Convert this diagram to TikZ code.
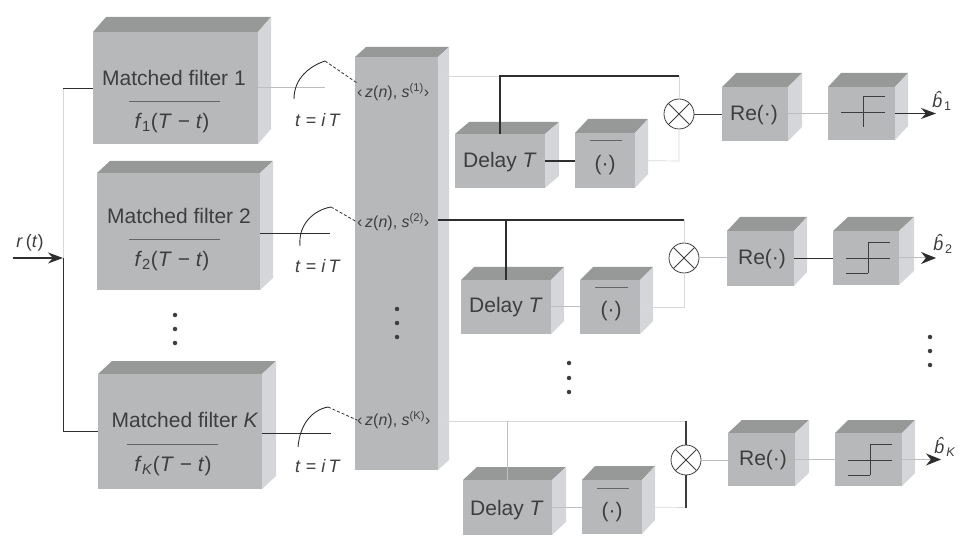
\documentclass[tikz,border=0pt]{standalone}
\usepackage{fontspec}
\setmainfont{Liberation Sans}
\usetikzlibrary{arrows.meta}
\definecolor{frontc}{HTML}{B7B8B9}
\definecolor{topc}{HTML}{979998}
\definecolor{sidec}{HTML}{D4D6DA}
\definecolor{inkc}{HTML}{3E3E3E}
\definecolor{lightc}{HTML}{BEBEBE}
\definecolor{darkc}{HTML}{2E2E2E}
\tikzset{
  frontface/.style={fill=frontc,draw=none,inner sep=0pt,outer sep=0pt,rectangle},
  topface/.style={fill=topc,draw=none},
  sideface/.style={fill=sidec,draw=none},
  big/.style={text=inkc,inner sep=0pt,font=\fontsize{21}{23}\selectfont},
  mid/.style={text=inkc,inner sep=0pt,font=\fontsize{18}{20}\selectfont},
  small/.style={text=inkc,inner sep=0pt,font=\fontsize{16}{18}\selectfont},
  dk/.style={draw=darkc,line width=1.1pt},
  lt/.style={draw=lightc,line width=1pt},
  vlt/.style={draw=lightc!60,line width=.7pt},
  bar/.style={draw=inkc!80,line width=.8pt},
  thrline/.style={draw=inkc,line width=.9pt},
  mult/.style={circle,draw=inkc,line width=.8pt,minimum size=30pt,inner sep=0pt,outer sep=0pt},
  dotmark/.style={circle,fill=inkc,inner sep=0pt,minimum size=4.5pt},
  arrowk/.style={draw=darkc,line width=1.3pt,-{Stealth[length=15pt,width=11pt]}},
  arrowl/.style={draw=lightc,line width=1pt,-{Stealth[length=15pt,width=12pt,color=darkc,fill=darkc]}},
  samp/.style={draw=darkc,line width=.9pt},
  sampd/.style={draw=darkc,line width=.8pt,densely dashed},
}
% name, x0,y0,x1,y1 (front face), xb,yb (far corner)
\newcommand{\cubebox}[7]{%
  \fill[topface] (#2,#3) -- ({#6-(#4-#2)},#7) -- (#6,#7) -- (#4,#3) -- cycle;
  \fill[sideface] (#4,#3) -- (#6,#7) -- (#6,{#5-(#3-#7)}) -- (#4,#5) -- cycle;
  \node[frontface,minimum width={(#4-#2)*1pt},minimum height={(#5-#3)*1pt}] (#1) at ({(#2+#4)/2},{(#3+#5)/2}) {};
}
\newcommand{\thrbase}[3]{% centre x, y, half-width
  \draw[thrline] ({#1-#3},#2) -- ({#1+#3},#2);
  \draw[thrline] (#1,{#2+15}) -- (#1,{#2-16}) -- ({#1+#3},{#2-16});
}
\newcommand{\thrlow}[3]{%
  \draw[thrline] (#1,{#2+15}) -- ({#1-#3},{#2+15});
}
\begin{document}
\begin{tikzpicture}[x=1pt,y=-1pt]
\useasboundingbox (0,0) rectangle (961,537);

% ---------- boxes
\cubebox{mfa}{93}{32}{258}{144}{271}{17}
\cubebox{mfb}{97}{173}{260}{290}{273}{161}
\cubebox{mfc}{98}{374}{262}{489}{276}{361}
\cubebox{bank}{355}{57}{438}{470}{449}{47}
\cubebox{da}{455}{134}{545}{188}{559}{122}
\cubebox{ca}{575}{133}{635}{188}{648}{119}
\cubebox{ra}{722}{87}{788}{141}{802}{73}
\cubebox{ta}{828}{87}{895}{140}{908}{73}
\cubebox{db}{461}{280}{551}{334}{564}{267}
\cubebox{cb}{580}{280}{640}{334}{653}{267}
\cubebox{rb}{727}{231}{794}{286}{807}{217}
\cubebox{tb}{833}{231}{899}{285}{914}{217}
\cubebox{dc}{463}{480}{552}{535}{566}{467}
\cubebox{cc}{582}{480}{642}{534}{655}{466}
\cubebox{rc}{728}{433}{795}{486}{809}{420}
\cubebox{tc}{835}{433}{902}{486}{915}{420}

% ---------- multipliers
\node[mult] (ma) at (679,114) {};
\node[mult] (mb) at (684,258) {};
\node[mult] (mc) at (686,460) {};
\foreach \m in {ma,mb,mc}{
  \draw[draw=inkc,line width=.8pt] (\m.45) -- (\m.225) (\m.135) -- (\m.315);
}

% ---------- free ends and junctions
\coordinate (inS) at (13,258);
\coordinate (inJ) at (63,258);
\coordinate (busT) at (63,88);
\coordinate (busB) at (63,431);
\coordinate (sa) at (325,88);
\coordinate (sb) at (330,233);
\coordinate (sc) at (331,433);
\coordinate (aa) at (294,99);
\coordinate (ab) at (325,61);
\coordinate (ba) at (300,246);
\coordinate (bb) at (331,207);
\coordinate (ca1) at (298,447);
\coordinate (cb1) at (328,407);
\coordinate (ja) at (500,76);
\coordinate (ka) at (679,76);
\coordinate (jb) at (506,220);
\coordinate (kb) at (684,220);
\coordinate (jc) at (507.5,421);
\coordinate (kc) at (686,421);
\coordinate (qa) at (679,161);
\coordinate (qb) at (684,307);
\coordinate (qc) at (686,507.5);
\coordinate (ea) at (936,113.5);
\coordinate (eb) at (936,258);
\coordinate (ec) at (941,459.5);

% ---------- labels in the bank
\node[small,anchor=west] (za) at (357,92) {‹\,\textit{z}(\textit{n}), \textit{s}\textsuperscript{(1)}›};
\node[small,anchor=west] (zb) at (357,222) {‹\,\textit{z}(\textit{n}), \textit{s}\textsuperscript{(2)}›};
\node[small,anchor=west] (zc) at (357,420) {‹\,\textit{z}(\textit{n}), \textit{s}\textsuperscript{(K)}›};

% ---------- input
\node[mid] (rt) at (30,243) {\textit{r}\,(\textit{t})};
\draw[arrowk] (inS) -- (inJ);
\draw[vlt] (busT) -- (inJ);
\draw[dk,line width=.9pt] (inJ) -- (busB) -- (mfc.west |- busB);
\draw[dk,line width=.9pt] (busT) -- (mfa.west);

% ---------- filter outputs and samplers
\draw[lt] (mfa.east) -- (sa);
\draw[dk,line width=.9pt] (mfb.east |- sb) -- (sb);
\draw[dk,line width=.9pt] (mfc.east |- sc) -- (sc);
\draw[samp] (aa) .. controls (294,78) and (310,66) .. (ab);
\draw[samp] (ba) .. controls (298,224) and (314,210) .. (bb);
\draw[samp] (ca1) .. controls (300,424) and (312,410) .. (cb1);
\draw[sampd] (ab) -- (za.north west);
\draw[sampd] (bb) -- (zb.west);
\draw[sampd] (cb1) -- (zc.west);
\node[mid] (ta1) at (318,120) {\textit{t} = \textit{i}\,\textit{T}};
\node[mid] (ta2) at (318,266) {\textit{t} = \textit{i}\,\textit{T}};
\node[mid] (ta3) at (318,466) {\textit{t} = \textit{i}\,\textit{T}};

% ---------- first branch
\draw[vlt] (bank.east |- ja) -- (ja);
\draw[dk] (da.north) -- (ja) -- (ka);
\draw[vlt] (ka) -- (ma.north);
\draw[dk] (da.east) -- (ca.west |- da.east);
\draw[vlt] (ca.east) -- (qa) -- (ma.south);
\draw[draw=inkc,line width=.8pt] (ma.east) -- (ra.west);
\draw[lt] (ra.east) -- (ta.west |- ra.east);
\draw[arrowk] (ta.east) -- (ea);

% ---------- second branch
\draw[dk] (bank.east |- jb) -- (kb);
\draw[vlt] (kb) -- (mb.north);
\draw[dk] (jb) -- (db.north);
\draw[lt] (db.east) -- (cb.west);
\draw[vlt] (cb.east) -- (qb) -- (mb.south);
\draw[lt] (mb.east) -- (rb.west |- mb.east);
\draw[dk] (rb.east) -- (tb.west |- rb.east);
\draw[arrowl] (tb.east) -- (eb);

% ---------- third branch
\draw[vlt] (bank.east |- jc) -- (kc);
\draw[lt] (jc) -- (dc.north);
\draw[dk,draw=inkc] (kc) -- (mc.north);
\draw[lt] (dc.east) -- (cc.west |- dc.east);
\draw[vlt] (cc.east) -- (qc);
\draw[dk,draw=inkc] (qc) -- (mc.south);
\draw[lt] (mc.east) -- (rc.west |- mc.east);
\draw[lt] (rc.east) -- (tc.west |- rc.east);
\draw[arrowl] (tc.east) -- (ec);

% ---------- box texts
\node[big] (ma1) at (174,78) {Matched filter 1};
\draw[bar] (129,101) -- (220,101);
\node[big] (ma2) at (172,123) {\textit{f}\textsubscript{1}(\textit{T} − \textit{t})};
\node[big] (mb1) at (179,216) {Matched filter 2};
\draw[bar] (129,239) -- (220,239);
\node[big] (mb2) at (172,261) {\textit{f}\textsubscript{2}(\textit{T} − \textit{t})};
\node[big] (mc1) at (185,420) {Matched filter \textit{K}};
\draw[bar] (127,444) -- (218,444);
\node[big] (mc2) at (173,466) {\textit{f}\textsubscript{\textit{K}}(\textit{T} − \textit{t})};

\node[big] (dat) at (500,162) {Delay \textit{T}};
\node[big] (dbt) at (506,307) {Delay \textit{T}};
\node[big] (dct) at (507,510) {Delay \textit{T}};

\draw[bar] (590,140) -- (622,140);
\draw[bar] (595,287) -- (628,287);
\draw[bar] (597,488) -- (629,488);
\node[big] (cat) at (605,165) {(·)};
\node[big] (cbt) at (611,311) {(·)};
\node[big] (cct) at (612,512) {(·)};

\node[big] (rat) at (754,115) {Re(·)};
\node[big] (rbt) at (762,259) {Re(·)};
\node[big] (rct) at (763,460) {Re(·)};

\thrbase{863}{112}{22}
\thrbase{868}{258}{22}
\thrlow{868}{258}{22}
\thrbase{870}{460}{22}
\thrlow{870}{460}{22}

% ---------- decisions
\node[mid] (ha) at (942,101) {\textit{b̂}\kern-1pt\textsubscript{1}};
\node[mid] (hb) at (943,244) {\textit{b̂}\kern-1pt\textsubscript{2}};
\node[mid] (hc) at (945,447) {\textit{b̂}\kern-1pt\textsubscript{\textit{K}}};

% ---------- ellipses
\foreach \px/\py in {175/315,175/329,175/343,397/309,397/323,397/337,569/363,569/378,569/392,930/337,930/351,930/365}{
  \node[dotmark] at (\px,\py) {};
}
\end{tikzpicture}
\end{document}
